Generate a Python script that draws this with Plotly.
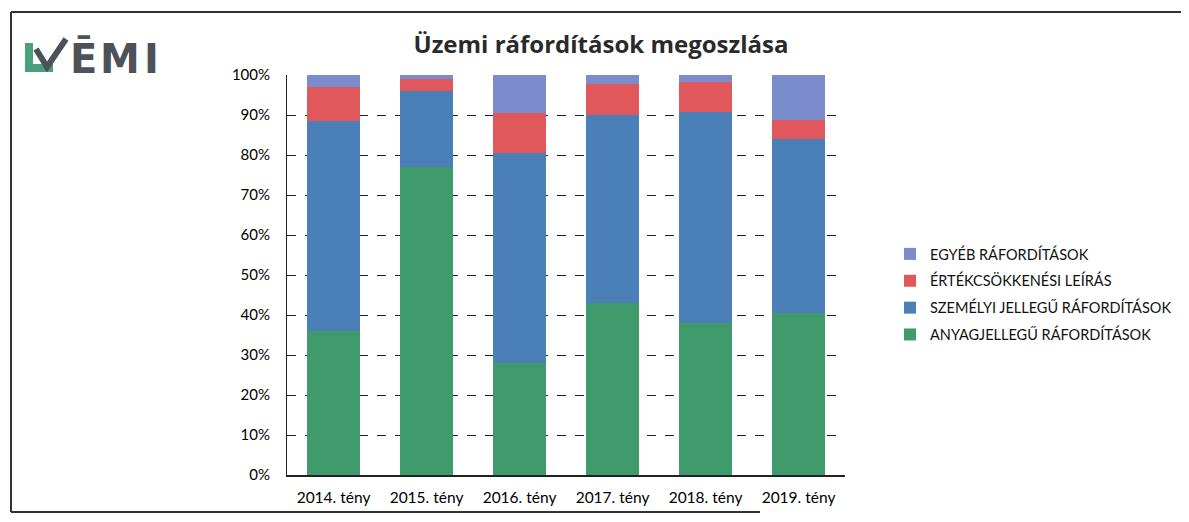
import plotly.graph_objects as go

categories = ["2014. tény", "2015. tény", "2016. tény", "2017. tény", "2018. tény", "2019. tény"]
anyag = [36.0, 77.0, 28.0, 43.0, 38.0, 40.5]
szemelyi = [52.5, 19.0, 52.5, 47.0, 52.75, 43.5]
ertekcs = [8.5, 3.0, 10.0, 7.75, 7.5, 4.75]
egyeb = [3.0, 1.0, 9.5, 2.25, 1.75, 11.25]

series_names = ["ANYAGJELLEGŰ RÁFORDÍTÁSOK", "SZEMÉLYI JELLEGŰ RÁFORDÍTÁSOK",
                "ÉRTÉKCSÖKKENÉSI LEÍRÁS", "EGYÉB RÁFORDÍTÁSOK"]
series_vals = [anyag, szemelyi, ertekcs, egyeb]
colors = ["#3f9a6c", "#4a7fb8", "#e0575c", "#7a8ccb"]

fig = go.Figure()
for i, (n, v, c) in enumerate(zip(series_names, series_vals, colors)):
    fig.add_trace(go.Bar(x=categories, y=v, name=n, marker_color=c,
                         marker_line_width=0, legendgroup=f"g{i}",
                         legendrank=1000 - i))

OFF = 8  # page body margin
W, H = 1189 - 2 * OFF, 522 - 2 * OFF
# plot area in page coords
PL, PR, PT, PB = 287, 845, 75, 475
L, R, T, B = PL - OFF, W - (PR - OFF), PT - OFF, H - (PB - OFF)
pw, ph = PR - PL, PB - PT
def px(x): return (x - PL) / pw
def py(y): return (PB - y) / ph

fig.update_layout(
    width=W, height=H,
    margin=dict(l=L, r=R, t=T, b=B, autoexpand=False),
    barmode="stack", bargap=0.43,
    paper_bgcolor="white", plot_bgcolor="white",
    font=dict(family="Lato, Open Sans, sans-serif", size=15, color="#111"),
    title=dict(text="<b>Üzemi ráfordítások megoszlása</b>", x=px(601), xref="paper",
               xanchor="center", y=1 - (45 - OFF) / H, yanchor="middle",
               font=dict(size=24, color="#2a2a2a", family="Open Sans, Lato, sans-serif")),
    legend=dict(x=px(890), y=py(238), xanchor="left", yanchor="top",
                traceorder="grouped", tracegroupgap=5,
                font=dict(size=14.5, color="#111"), bgcolor="rgba(0,0,0,0)",
                itemwidth=30),
    showlegend=True,
)
fig.update_yaxes(range=[0, 100], tickvals=list(range(0, 101, 10)),
                 ticktext=[f"{v}%" for v in range(0, 101, 10)],
                 showgrid=True, gridcolor="#222", griddash="dash", gridwidth=1,
                 showline=True, linecolor="#222", linewidth=1, ticks="", automargin=False,
                 zeroline=False, tickfont=dict(size=15, color="#000"), ticklabelstandoff=13)
fig.update_xaxes(showline=True, linecolor="#222", linewidth=1.5, ticks="", automargin=False,
                 tickfont=dict(size=15.5, color="#000"), ticklabelstandoff=8)

# outer border lines of the scanned chart box
border = dict(type="line", xref="paper", yref="paper", line=dict(color="#333", width=2))
fig.add_shape(x0=px(11), x1=px(1189), y0=py(12), y1=py(12), **border)
fig.add_shape(x0=px(11), x1=px(11), y0=py(12), y1=py(512), **border)
fig.add_shape(x0=px(11), x1=px(760), y0=py(512), y1=py(512), **border)

# logo: green corner, gray check mark, and "ĒMI" letters
def pth(points, close=True):
    s = "M " + " L ".join(f"{px(x):.5f},{py(y):.5f}" for x, y in points)
    return s + (" Z" if close else "")

fig.add_shape(type="path", xref="paper", yref="paper",
              path=pth([(25, 43), (33, 43), (33, 64), (53, 64), (53, 72), (25, 72)]),
              fillcolor="#4aa07a", line=dict(width=0))
fig.add_shape(type="path", xref="paper", yref="paper",
              path=pth([(36, 49), (47, 67), (66, 39)], close=False),
              fillcolor="rgba(0,0,0,0)", line=dict(color="#4d5258", width=6))
for ch, cx in [("Ē", 83), ("M", 120), ("I", 151)]:
    fig.add_annotation(xref="paper", yref="paper", x=px(cx), y=py(59), xanchor="center",
                       yanchor="middle", showarrow=False, text=f"<b>{ch}</b>",
                       font=dict(size=40, family="DejaVu Sans, sans-serif", color="#4d5258"))

fig.write_html("out.html")
